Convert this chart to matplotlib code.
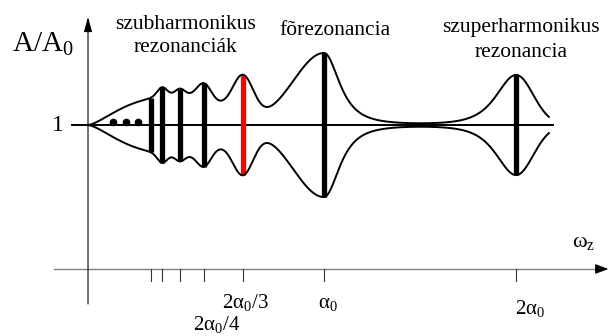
import numpy as np
import matplotlib
matplotlib.use('Agg')
import matplotlib.pyplot as plt

plt.rcParams['font.family'] = 'serif'
plt.rcParams['font.serif'] = ['Liberation Serif', 'DejaVu Serif']
plt.rcParams['mathtext.fontset'] = 'custom'
plt.rcParams['mathtext.rm'] = 'Liberation Serif'
plt.rcParams['mathtext.it'] = 'Liberation Serif:italic'

# resonance positions along omega_z (schematic scale, alpha0 = 1)
res_pos = [0.267, 0.314, 0.390, 0.492, 0.657, 1.0, 1.814]
res_color = ['black', 'black', 'black', 'black', 'red', 'black', 'black']

# peak heights above the background (A/A0 units) and their widths
peak_height = [0.0, 0.066, 0.049, 0.108, 0.292, 0.500, 0.347]
peak_wl = [0.02, 0.021, 0.021, 0.030, 0.045, 0.131, 0.076]
peak_wr = [0.02, 0.021, 0.021, 0.030, 0.045, 0.058, 0.072]
peak_pl = [50, 50, 50, 50, 50, 50, 2]
peak_pr = [50, 50, 50, 50, 50, 1.5, 50]

# background that grows in the subharmonic region
ramp_level = 0.215
ramp_scale = 0.170
ramp_cut = 0.58
ramp_cut_w = 0.051

dots_x = [0.106, 0.161, 0.212]

tick_labels = {3: '2α$_0$/4', 4: '2α$_0$/3', 5: 'α$_0$', 6: '2α$_0$'}


def envelope(w):
    a = ramp_level * (1 - np.exp(-(w / ramp_scale) ** 1.5)) / (1 + np.exp((w - ramp_cut) / ramp_cut_w))
    for x0, h, wl, wr, pl, pr in zip(res_pos, peak_height, peak_wl, peak_wr, peak_pl, peak_pr):
        d = w - x0
        wd = np.where(d < 0, wl, wr)
        p = np.where(d < 0, pl, pr)
        a = a + h * (1 + d ** 2 / (2 * p * wd ** 2)) ** (-p)
    return a


fig = plt.figure(figsize=(6.09, 3.36), dpi=100)
ax = fig.add_axes([0, 0, 1, 1])
ax.set_xlim(-0.3729, 2.2076)
ax.set_ylim(-0.4653, 1.8681)
ax.axis('off')

# axes
ax.plot([-0.144, 2.16], [0, 0], color='#808080', lw=1.0)
ax.annotate('', xy=(2.205, 0), xytext=(2.15, 0),
            arrowprops=dict(arrowstyle='-|>,head_length=0.8,head_width=0.3', color='black', lw=0.8,
                            shrinkA=0, shrinkB=0))
ax.annotate('', xy=(0, 1.75), xytext=(0, -0.243),
            arrowprops=dict(arrowstyle='-|>,head_length=0.9,head_width=0.25', color='black', lw=0.8,
                            shrinkA=0, shrinkB=0))

# ticks
for x in res_pos:
    ax.plot([x, x], [0, -0.083], color='#333333', lw=0.8)

ax.text(0.669, -0.271, tick_labels[4], ha='center', va='baseline', fontsize=15)
ax.text(0.547, -0.425, tick_labels[3], ha='center', va='baseline', fontsize=15)
ax.text(1.017, -0.271, tick_labels[5], ha='center', va='baseline', fontsize=15)
ax.text(1.873, -0.3125, tick_labels[6], ha='center', va='baseline', fontsize=15)
ax.text(2.051, 0.153, 'ω$_\\mathrm{z}$', ha='left', va='baseline', fontsize=16)

ax.text(-0.322, 1.507, 'A/A$_0$', ha='left', va='baseline', fontsize=21)
ax.text(-0.1017, 1.0, '1', ha='right', va='center', fontsize=17)

# middle line
ax.plot([-0.068, 1.970], [1, 1], color='black', lw=1.4)

# envelope
w = np.linspace(0, 1.953, 3000)
a = envelope(w)

for x, c in zip(res_pos, res_color):
    h = envelope(np.array([x]))[0]
    ax.plot([x, x], [1 - h, 1 + h], color=c, lw=3.8, solid_capstyle='butt', zorder=2)

ax.plot(w, 1 + a, color='black', lw=1.4, zorder=3)
ax.plot(w, 1 - a, color='black', lw=1.4, zorder=3)

ax.plot(dots_x, [1.021] * len(dots_x), 'o', color='black', ms=4.5, zorder=3)

# annotations
ax.text(0.415, 1.667, 'szubharmonikus', ha='center', va='baseline', fontsize=15.5)
ax.text(0.411, 1.507, 'rezonanciák', ha='center', va='baseline', fontsize=15.5)
ax.text(1.047, 1.625, 'fõrezonancia', ha='center', va='baseline', fontsize=15.5)
ax.text(1.833, 1.646, 'szuperharmonikus', ha='center', va='baseline', fontsize=15.5)
ax.text(1.835, 1.472, 'rezonancia', ha='center', va='baseline', fontsize=15.5)

fig.savefig('out.png', dpi=100)
